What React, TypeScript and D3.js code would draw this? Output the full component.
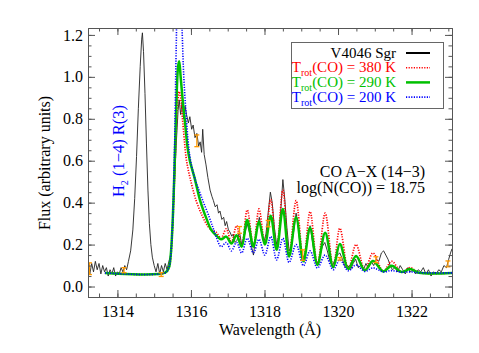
import React, { useRef, useEffect } from 'react';
import * as d3 from 'd3';

// observed spectrum: [wavelength (A), flux]
const observed: [number, number][] = [
  [1313.2, 0.09], [1313.25, 0.06], [1313.3, 0.11], [1313.35, 0.07], [1313.4, 0.12], [1313.45, 0.08],
  [1313.5, 0.11], [1313.55, 0.06], [1313.6, 0.1], [1313.65, 0.07], [1313.7, 0.09], [1313.75, 0.05],
  [1313.8, 0.08], [1313.85, 0.06], [1313.9, 0.09], [1313.95, 0.05], [1314.0, 0.07], [1314.05, 0.06],
  [1314.1, 0.09], [1314.15, 0.07], [1314.2, 0.1], [1314.25, 0.08],
  [1314.3, 0.12], [1314.36, 0.17], [1314.42, 0.27], [1314.47, 0.42], [1314.52, 0.62], [1314.57, 0.85],
  [1314.62, 1.05], [1314.66, 1.18], [1314.68, 1.21], [1314.71, 1.12], [1314.75, 0.92], [1314.79, 0.68],
  [1314.83, 0.46], [1314.87, 0.3], [1314.91, 0.2], [1314.95, 0.14], [1315.0, 0.1], [1315.05, 0.07],
  [1315.1, 0.11], [1315.15, 0.06], [1315.2, 0.1], [1315.25, 0.07], [1315.3, 0.11], [1315.35, 0.08],
  [1315.4, 0.12], [1315.45, 0.15], [1315.5, 0.28], [1315.55, 0.48], [1315.6, 0.68], [1315.65, 0.84],
  [1315.68, 0.89], [1315.72, 0.82], [1315.76, 0.88], [1315.8, 0.8], [1315.84, 0.86], [1315.88, 0.82],
  [1315.93, 0.78], [1315.97, 0.81], [1316.02, 0.75], [1316.06, 0.77], [1316.11, 0.71], [1316.16, 0.73],
  [1316.21, 0.67], [1316.25, 0.69], [1316.29, 0.64], [1316.32, 0.75], [1316.36, 0.63], [1316.41, 0.58],
  [1316.46, 0.52], [1316.52, 0.46], [1316.57, 0.43], [1316.61, 0.41], [1316.66, 0.38], [1316.71, 0.39],
  [1316.75, 0.35], [1316.79, 0.36], [1316.84, 0.32], [1316.89, 0.33], [1316.93, 0.29], [1316.97, 0.31],
  [1317.02, 0.27], [1317.06, 0.26], [1317.11, 0.24], [1317.15, 0.25], [1317.2, 0.21],
  [1317.25, 0.22], [1317.32, 0.26], [1317.38, 0.2], [1317.45, 0.24], [1317.53, 0.3], [1317.6, 0.25],
  [1317.66, 0.18], [1317.7, 0.15], [1317.75, 0.22], [1317.8, 0.28], [1317.86, 0.33], [1317.92, 0.26],
  [1317.98, 0.21], [1318.04, 0.25], [1318.1, 0.35], [1318.16, 0.45], [1318.21, 0.4], [1318.27, 0.28],
  [1318.33, 0.2], [1318.39, 0.24], [1318.45, 0.38], [1318.5, 0.51], [1318.55, 0.42], [1318.61, 0.28],
  [1318.67, 0.17], [1318.73, 0.19], [1318.8, 0.27], [1318.86, 0.35], [1318.92, 0.28], [1318.98, 0.17],
  [1319.04, 0.13], [1319.1, 0.16], [1319.17, 0.22], [1319.24, 0.29], [1319.3, 0.22], [1319.37, 0.14],
  [1319.44, 0.11], [1319.5, 0.14], [1319.57, 0.19], [1319.64, 0.21], [1319.71, 0.17], [1319.78, 0.12],
  [1319.85, 0.1], [1319.92, 0.13], [1319.98, 0.15], [1320.05, 0.16], [1320.12, 0.13], [1320.2, 0.09],
  [1320.27, 0.1], [1320.34, 0.08], [1320.41, 0.11], [1320.48, 0.13], [1320.55, 0.09], [1320.62, 0.1],
  [1320.69, 0.08], [1320.76, 0.11], [1320.83, 0.09], [1320.9, 0.12], [1320.97, 0.1], [1321.04, 0.13],
  [1321.11, 0.12], [1321.18, 0.16], [1321.24, 0.17], [1321.3, 0.15], [1321.36, 0.13], [1321.42, 0.1],
  [1321.48, 0.08], [1321.55, 0.09], [1321.62, 0.07], [1321.69, 0.1], [1321.76, 0.08], [1321.83, 0.06],
  [1321.9, 0.09], [1321.97, 0.07], [1322.04, 0.08], [1322.11, 0.06], [1322.18, 0.08], [1322.25, 0.07],
  [1322.32, 0.09], [1322.39, 0.06], [1322.46, 0.08], [1322.53, 0.05], [1322.6, 0.07], [1322.67, 0.06],
  [1322.74, 0.08], [1322.81, 0.07], [1322.88, 0.1], [1322.95, 0.09], [1323.01, 0.13], [1323.06, 0.16],
  [1323.1, 0.18],
];

// model T_rot = 380 K
const model380: [number, number][] = [
  [1313.66, 0.065], [1315.3, 0.066], [1315.4, 0.09], [1315.45, 0.14], [1315.5, 0.28], [1315.55, 0.5],
  [1315.6, 0.74], [1315.64, 0.88], [1315.68, 0.93], [1315.72, 0.9], [1315.77, 0.8], [1315.82, 0.7],
  [1315.88, 0.6], [1316.0, 0.5], [1316.14, 0.41], [1316.3, 0.34], [1316.45, 0.29], [1316.55, 0.27],
  [1316.68, 0.26], [1316.82, 0.23], [1316.96, 0.275], [1317.1, 0.21], [1317.24, 0.29], [1317.38, 0.195],
  [1317.53, 0.365], [1317.7, 0.195], [1317.85, 0.37], [1318.01, 0.205], [1318.17, 0.416], [1318.33, 0.18],
  [1318.5, 0.46], [1318.67, 0.15], [1318.86, 0.41], [1319.06, 0.125], [1319.24, 0.357], [1319.44, 0.105],
  [1319.65, 0.35], [1319.87, 0.093], [1320.05, 0.278], [1320.28, 0.084], [1320.49, 0.2], [1320.73, 0.078],
  [1320.95, 0.16], [1321.23, 0.073], [1321.46, 0.12], [1321.73, 0.069], [1321.96, 0.09], [1322.2, 0.066],
  [1323.1, 0.065],
];

// model T_rot = 290 K
const model290: [number, number][] = [
  [1313.66, 0.065], [1315.3, 0.066], [1315.4, 0.09], [1315.45, 0.15], [1315.5, 0.3], [1315.55, 0.55],
  [1315.6, 0.85], [1315.65, 1.05], [1315.68, 1.075], [1315.72, 1.0], [1315.78, 0.88], [1315.84, 0.78],
  [1315.91, 0.66], [1315.97, 0.6], [1316.11, 0.51], [1316.25, 0.41], [1316.43, 0.32], [1316.55, 0.27],
  [1316.68, 0.245], [1316.82, 0.225], [1316.96, 0.238], [1317.1, 0.205], [1317.24, 0.245], [1317.38, 0.19],
  [1317.53, 0.317], [1317.7, 0.19], [1317.85, 0.31], [1318.01, 0.2], [1318.17, 0.337], [1318.33, 0.175],
  [1318.5, 0.37], [1318.67, 0.143], [1318.86, 0.33], [1319.06, 0.12], [1319.24, 0.28], [1319.44, 0.103],
  [1319.65, 0.257], [1319.87, 0.092], [1320.05, 0.203], [1320.28, 0.083], [1320.49, 0.146], [1320.73, 0.077],
  [1320.95, 0.122], [1321.23, 0.072], [1321.46, 0.099], [1321.73, 0.069], [1321.96, 0.083], [1322.2, 0.066],
  [1323.1, 0.065],
];

// model T_rot = 200 K
const model200: [number, number][] = [
  [1313.66, 0.065], [1315.3, 0.066], [1315.4, 0.09], [1315.45, 0.15], [1315.5, 0.3], [1315.55, 0.62],
  [1315.6, 1.15], [1315.64, 1.45], [1315.68, 1.52], [1315.72, 1.42], [1315.76, 1.22], [1315.8, 1.02],
  [1315.86, 0.84], [1315.92, 0.7], [1315.98, 0.61], [1316.1, 0.52], [1316.3, 0.42], [1316.5, 0.33],
  [1316.6, 0.28], [1316.68, 0.24], [1316.82, 0.19], [1316.96, 0.21], [1317.1, 0.17], [1317.24, 0.21],
  [1317.38, 0.16], [1317.53, 0.23], [1317.7, 0.16], [1317.85, 0.225], [1318.01, 0.15], [1318.17, 0.238],
  [1318.33, 0.127], [1318.5, 0.23], [1318.67, 0.115], [1318.86, 0.2], [1319.06, 0.099], [1319.24, 0.17],
  [1319.44, 0.088], [1319.65, 0.15], [1319.87, 0.08], [1320.05, 0.127], [1320.28, 0.075], [1320.49, 0.103],
  [1320.73, 0.072], [1320.95, 0.089], [1321.23, 0.07], [1321.46, 0.076], [1321.73, 0.068], [1321.96, 0.07],
  [1322.2, 0.066], [1323.1, 0.065],
];

// error bars: [wavelength, flux, half-length]
const errorBars: [number, number, number][] = [
  [1313.24, 0.085, 0.028], [1314.18, 0.078, 0.012], [1315.19, 0.057, 0.009], [1316.16, 0.695, 0.028],
  [1317.32, 0.27, 0.016], [1318.1, 0.3, 0.015], [1319.04, 0.15, 0.025], [1320.05, 0.132, 0.006],
  [1321.03, 0.128, 0.014], [1322.99, 0.108, 0.014],
];

const xMajorTicks = [1314, 1316, 1318, 1320, 1322];
const yMajorTicks = [0.0, 0.2, 0.4, 0.6, 0.8, 1.0, 1.2];

const legendItems = [
  { pre: 'V4046 Sgr', sub: '', post: '', color: '#000000', dash: '', width: 2 },
  { pre: 'T', sub: 'rot', post: '(CO) = 380 K', color: '#ff0000', dash: '1.2 1.4', width: 1.6 },
  { pre: 'T', sub: 'rot', post: '(CO) = 290 K', color: '#00c000', dash: '', width: 2.5 },
  { pre: 'T', sub: 'rot', post: '(CO) = 200 K', color: '#0000ff', dash: '1.2 1.4', width: 1.6 },
];

const W = 479;
const H = 353;
const margin = { top: 28, right: 27, bottom: 56, left: 88 };
const FONT = '"Liberation Serif", "Times New Roman", serif';

const x = d3.scaleLinear().domain([1313.2, 1323.1]).range([margin.left, W - margin.right]);
const y = d3.scaleLinear().domain([-0.05, 1.233]).range([H - margin.bottom, margin.top]);

const App = () => {
  const axRef = useRef<SVGGElement>(null);

  useEffect(() => {
    const g = d3.select(axRef.current);
    g.selectAll('*').remove();
    const x0 = margin.left, x1 = W - margin.right, y0 = H - margin.bottom, y1 = margin.top;

    const styleAxis = (sel: any) => {
      sel.selectAll('path').attr('stroke', '#555');
      sel.selectAll('line').attr('stroke', '#555');
      sel.attr('font-family', FONT).attr('font-size', 16);
      sel.selectAll('text').attr('fill', '#000');
    };

    // minor ticks
    const xMinor = x.ticks(20);
    const yMinor = y.ticks(25);
    g.append('g').attr('transform', `translate(0,${y0})`)
      .call(d3.axisBottom(x).tickValues(xMinor).tickSize(-3.5).tickSizeOuter(0).tickFormat(() => ''))
      .call(styleAxis);
    g.append('g').attr('transform', `translate(0,${y1})`)
      .call(d3.axisTop(x).tickValues(xMinor).tickSize(-3.5).tickSizeOuter(0).tickFormat(() => ''))
      .call(styleAxis);
    g.append('g').attr('transform', `translate(${x0},0)`)
      .call(d3.axisLeft(y).tickValues(yMinor).tickSize(-3.5).tickSizeOuter(0).tickFormat(() => ''))
      .call(styleAxis);
    g.append('g').attr('transform', `translate(${x1},0)`)
      .call(d3.axisRight(y).tickValues(yMinor).tickSize(-3.5).tickSizeOuter(0).tickFormat(() => ''))
      .call(styleAxis);

    // major ticks
    g.append('g').attr('transform', `translate(0,${y0})`)
      .call(d3.axisBottom(x).tickValues(xMajorTicks).tickSize(-7).tickSizeOuter(0).tickPadding(9).tickFormat(d3.format('d')))
      .call(styleAxis);
    g.append('g').attr('transform', `translate(0,${y1})`)
      .call(d3.axisTop(x).tickValues(xMajorTicks).tickSize(-7).tickSizeOuter(0).tickFormat(() => ''))
      .call(styleAxis);
    g.append('g').attr('transform', `translate(${x0},0)`)
      .call(d3.axisLeft(y).tickValues(yMajorTicks).tickSize(-7).tickSizeOuter(0).tickPadding(5).tickFormat(d3.format('.1f')))
      .call(styleAxis);
    g.append('g').attr('transform', `translate(${x1},0)`)
      .call(d3.axisRight(y).tickValues(yMajorTicks).tickSize(-7).tickSizeOuter(0).tickFormat(() => ''))
      .call(styleAxis);
  }, []);

  const lineObs = d3.line<[number, number]>().x(d => x(d[0])).y(d => y(d[1]));
  const lineModel = d3.line<[number, number]>().x(d => x(d[0])).y(d => y(d[1])).curve(d3.curveCatmullRom.alpha(0.5));

  const lgX = 291.5, lgY = 42.5, lgW = 152, lgH = 66;

  return (
    <svg width={W} height={H} style={{ position: 'absolute', left: 0, top: 0, background: '#fff' }}>
      <defs>
        <clipPath id="plotClip">
          <rect x={margin.left} y={margin.top} width={W - margin.left - margin.right} height={H - margin.top - margin.bottom} />
        </clipPath>
      </defs>

      <g clipPath="url(#plotClip)">
        <path d={lineObs(observed) || ''} fill="none" stroke="#222" strokeWidth={0.9} />
        <path d={lineModel(model380) || ''} fill="none" stroke="#ff0000" strokeWidth={1.7} strokeDasharray="1.2 1.4" />
        <path d={lineModel(model290) || ''} fill="none" stroke="#00c000" strokeWidth={2.5} />
        <path d={lineModel(model200) || ''} fill="none" stroke="#0000ff" strokeWidth={1.6} strokeDasharray="1.2 1.4" />
        {errorBars.map(([w, f, e], i) => (
          <g key={i} stroke="#ff9a00" strokeWidth={1.3}>
            <line x1={x(w)} x2={x(w)} y1={y(f - e)} y2={y(f + e)} />
            <line x1={x(w) - 2.5} x2={x(w) + 2.5} y1={y(f - e)} y2={y(f - e)} />
            <line x1={x(w) - 2.5} x2={x(w) + 2.5} y1={y(f + e)} y2={y(f + e)} />
          </g>
        ))}
      </g>

      <g ref={axRef} />

      {/* legend */}
      <rect x={lgX} y={lgY} width={lgW} height={lgH} fill="#fff" stroke="#666" strokeWidth={1} />
      {legendItems.map((item, i) => {
        const by = 57.5 + i * 14.7;
        return (
          <g key={i}>
            <text x={396} y={by} textAnchor="end" fontFamily={FONT} fontSize={15} fill={item.color}>
              {item.pre}
              {item.sub && <tspan fontSize={10} dy={4}>{item.sub}</tspan>}
              {item.sub && <tspan dy={-4}>{item.post}</tspan>}
            </text>
            <line x1={406} x2={430} y1={by - 4.5} y2={by - 4.5} stroke={item.color} strokeWidth={item.width}
              strokeDasharray={item.dash || undefined} />
          </g>
        );
      })}

      {/* annotations */}
      <text x={425} y={176.5} textAnchor="end" fontFamily={FONT} fontSize={16} fill="#000">CO A−X (14−3)</text>
      <text x={425} y={193} textAnchor="end" fontFamily={FONT} fontSize={16} fill="#000">log(N(CO)) = 18.75</text>
      <text transform="translate(124,151) rotate(-90)" textAnchor="middle" fontFamily={FONT} fontSize={16.5} fill="#0000ff">
        H<tspan fontSize={10} dy={4}>2</tspan><tspan dy={-4}> (1−4) R(3)</tspan>
      </text>

      {/* axis titles */}
      <text transform="translate(50,163) rotate(-90)" textAnchor="middle" fontFamily={FONT} fontSize={16} fill="#000">
        Flux (arbitrary units)
      </text>
      <text x={270} y={335} textAnchor="middle" fontFamily={FONT} fontSize={16} fill="#000">Wavelength (Å)</text>
    </svg>
  );
};

export default App;
